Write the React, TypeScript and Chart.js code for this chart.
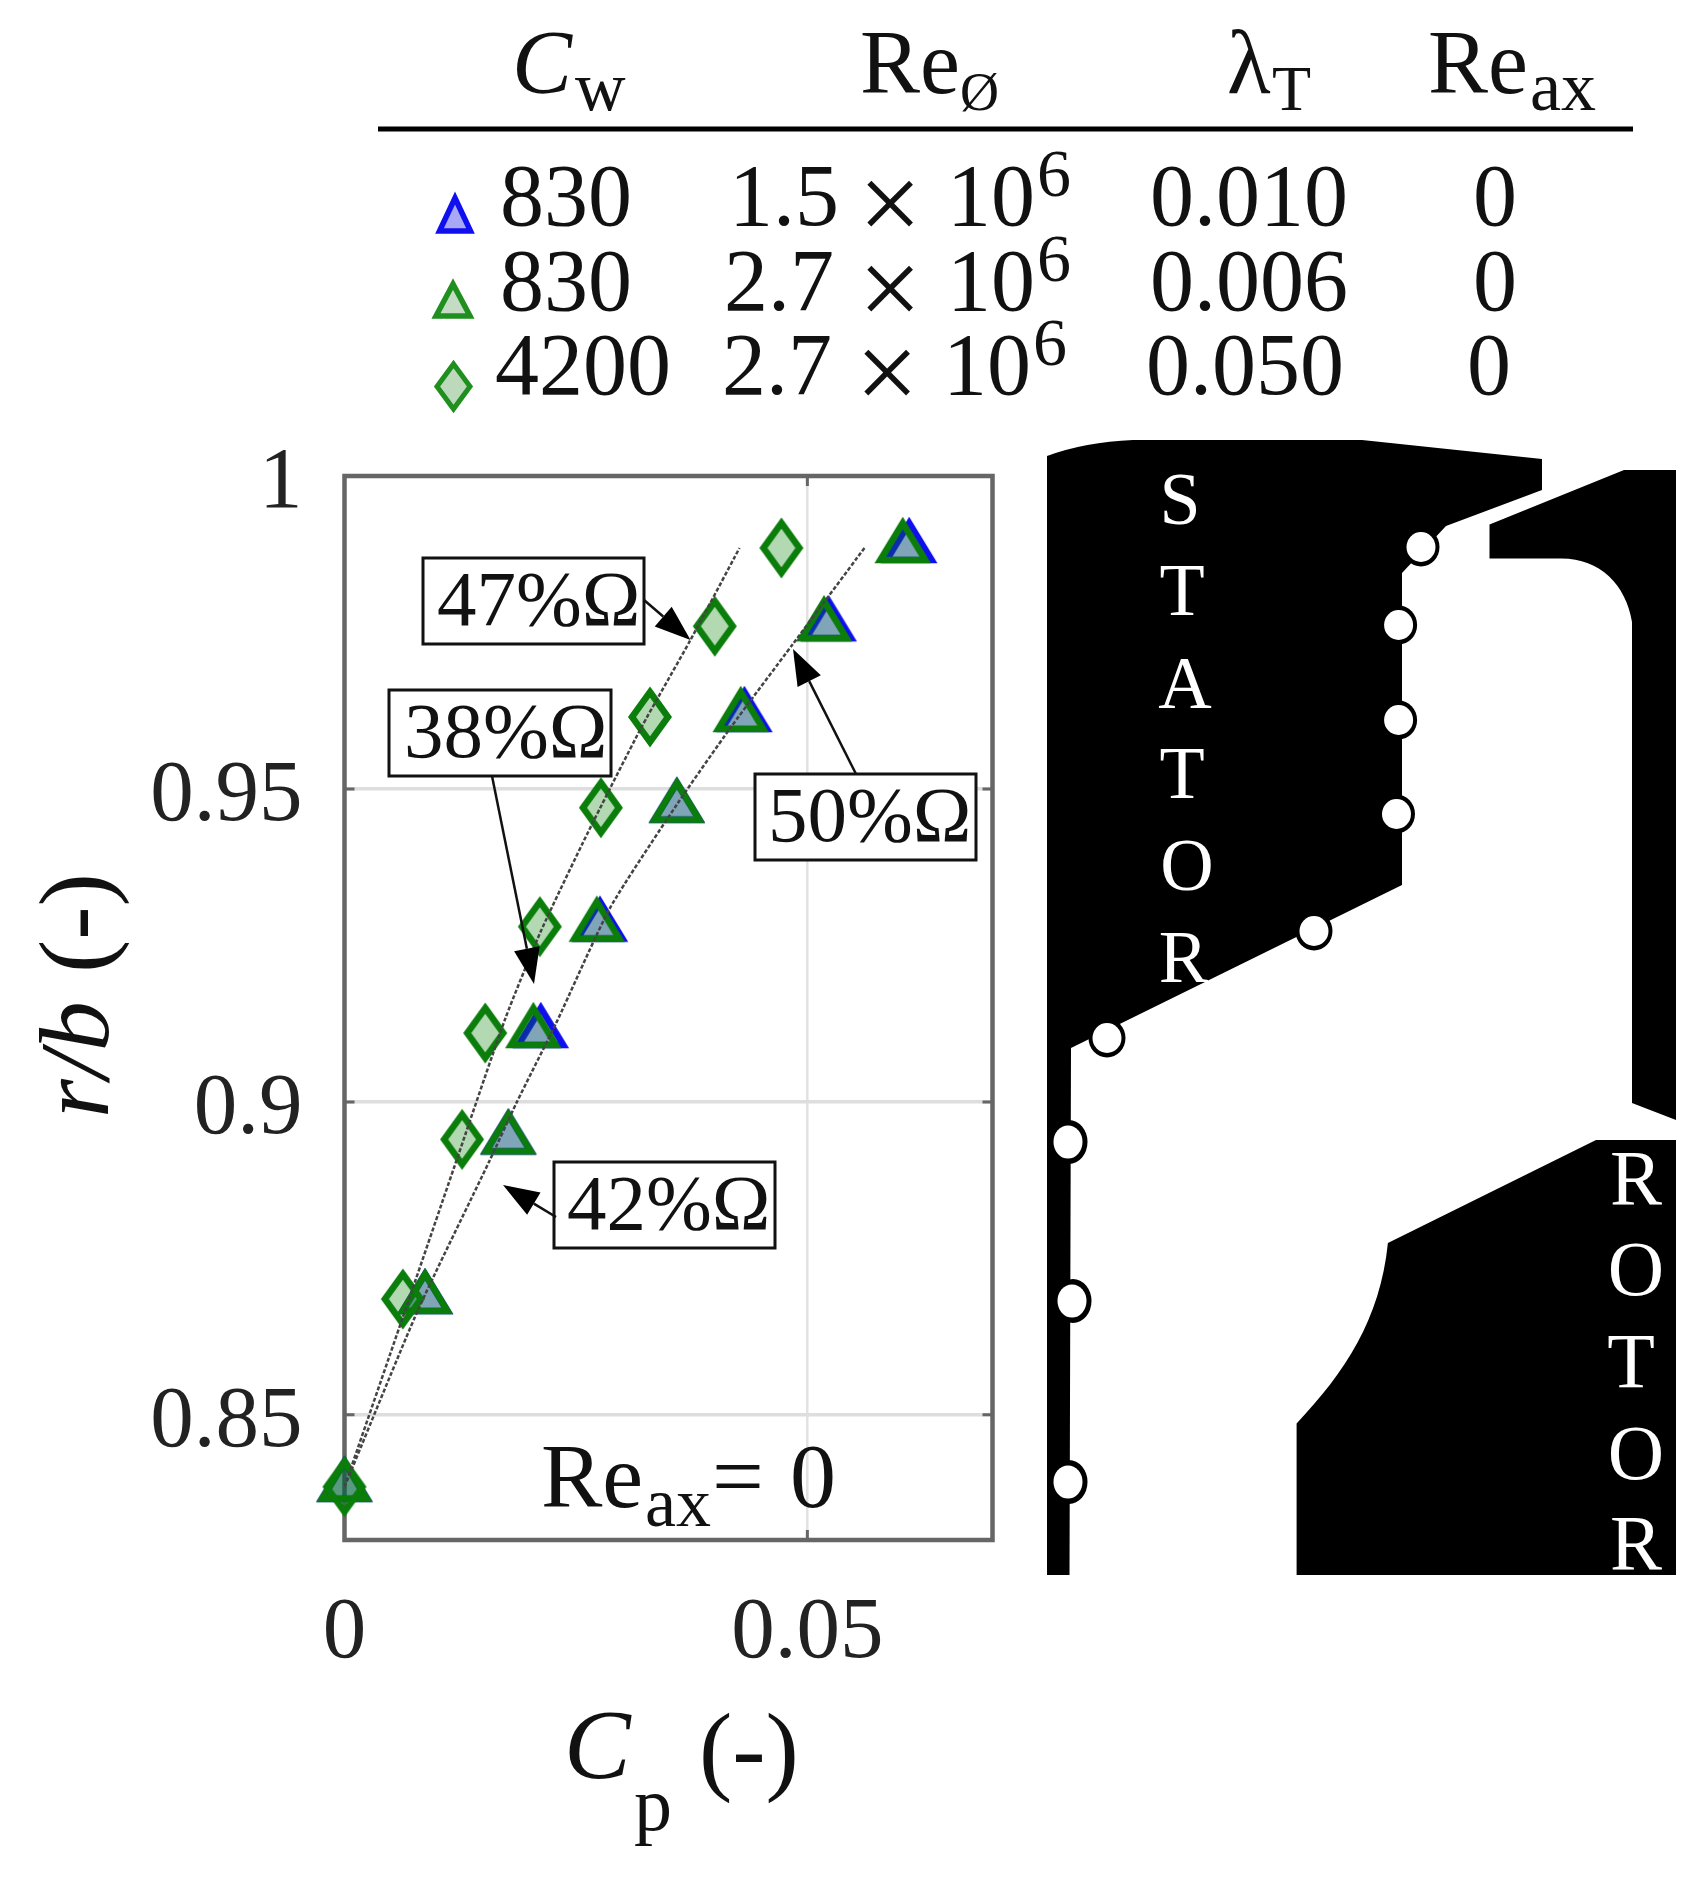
import React, { useEffect, useRef } from "react";
import { Chart, registerables } from "chart.js";

Chart.register(...registerables);

const SERIF = '"Liberation Serif", "Times New Roman", serif';

// ---- data ----
const rOverB = [0.9885, 0.976, 0.9615, 0.947, 0.928, 0.911, 0.894, 0.8685, 0.8385];
const cpDiamond4200 = [0.0472, 0.04, 0.033, 0.0277, 0.0211, 0.0152, 0.0127, 0.0063, 0];
const cpTriangle830High = [0.0603, 0.0518, 0.0428, 0.0359, 0.02725, 0.0204, 0.0177, 0.0087, 0];
const cpTriangle830Low = [0.061, 0.0523, 0.0432, 0.0359, 0.0276, 0.0212, 0.0177, 0.0087, 0];

const fitLeftCp = [0, 0.00628, 0.01181, 0.01737, 0.02122, 0.02628, 0.03206, 0.03737, 0.04267];
const fitLeftR = [0.8385, 0.8655, 0.8894, 0.9133, 0.9273, 0.943, 0.9598, 0.9738, 0.9885];
const fitRightCp = [0, 0.00796, 0.01567, 0.01856, 0.0229, 0.02869, 0.0359, 0.04171, 0.04846, 0.05617];
const fitRightR = [0.8385, 0.8668, 0.8906, 0.8998, 0.9127, 0.931, 0.9475, 0.9598, 0.9732, 0.9885];

const xTickValues = [0, 0.05];
const yTickValues = [0.85, 0.9, 0.95, 1];

const tableCw = ["830", "830", "4200"];
const tableRe = ["1.5", "2.7", "2.7"];
const tableLambda = ["0.010", "0.006", "0.050"];
const tableReax = ["0", "0", "0"];
const annotationLabels = ["47%Ω", "38%Ω", "50%Ω", "42%Ω"];
const statorLetters = ["S", "T", "A", "T", "O", "R"];
const rotorLetters = ["R", "O", "T", "O", "R"];

const pts = (xs: number[], ys: number[]) => xs.map((x, i) => ({ x, y: ys[i] }));

function triangleMarker(stroke: string, fill: string) {
  const c = document.createElement("canvas");
  c.width = 76;
  c.height = 76;
  const g = c.getContext("2d")!;
  const cx = 38, cy = 38;
  g.beginPath();
  g.moveTo(cx, cy - 25);
  g.lineTo(cx + 22.5, cy + 12);
  g.lineTo(cx - 22.5, cy + 12);
  g.closePath();
  g.fillStyle = fill;
  g.fill();
  g.lineWidth = 6.5;
  g.lineJoin = "miter";
  g.strokeStyle = stroke;
  g.stroke();
  return c;
}

function diamondMarker(stroke: string, fill: string) {
  const c = document.createElement("canvas");
  c.width = 60;
  c.height = 76;
  const g = c.getContext("2d")!;
  const cx = 30, cy = 38;
  g.beginPath();
  g.moveTo(cx, cy - 25);
  g.lineTo(cx + 18, cy);
  g.lineTo(cx, cy + 25);
  g.lineTo(cx - 18, cy);
  g.closePath();
  g.fillStyle = fill;
  g.fill();
  g.lineWidth = 6.5;
  g.lineJoin = "miter";
  g.strokeStyle = stroke;
  g.stroke();
  return c;
}

function text(ctx: CanvasRenderingContext2D, s: string, x: number, y: number, size: number, opts: { italic?: boolean; color?: string; align?: CanvasTextAlign } = {}) {
  ctx.font = `${opts.italic ? "italic " : ""}${size}px ${SERIF}`;
  ctx.fillStyle = opts.color || "#111";
  ctx.textAlign = opts.align || "left";
  ctx.textBaseline = "alphabetic";
  ctx.fillText(s, x, y);
}

function arrow(ctx: CanvasRenderingContext2D, x0: number, y0: number, x1: number, y1: number) {
  const a = Math.atan2(y1 - y0, x1 - x0);
  const len = 36, half = 13;
  const bx = x1 - Math.cos(a) * len, by = y1 - Math.sin(a) * len;
  ctx.strokeStyle = "#111";
  ctx.lineWidth = 2.5;
  ctx.beginPath();
  ctx.moveTo(x0, y0);
  ctx.lineTo(bx, by);
  ctx.stroke();
  ctx.fillStyle = "#000";
  ctx.beginPath();
  ctx.moveTo(x1, y1);
  ctx.lineTo(bx - Math.sin(a) * half, by + Math.cos(a) * half);
  ctx.lineTo(bx + Math.sin(a) * half, by - Math.cos(a) * half);
  ctx.closePath();
  ctx.fill();
}

function drawTable(ctx: CanvasRenderingContext2D) {
  const headSize = 90, subSize = 70, cell = 88;
  text(ctx, "C", 512, 93, headSize, { italic: true });
  text(ctx, "w", 575, 110, subSize);
  text(ctx, "Re", 860, 93, headSize);
  text(ctx, "Ø", 960, 110, 54);
  text(ctx, "λ", 1227, 93, headSize);
  text(ctx, "T", 1272, 110, 64);
  text(ctx, "Re", 1428, 93, headSize);
  text(ctx, "ax", 1530, 110, subSize);

  ctx.strokeStyle = "#000";
  ctx.lineWidth = 5;
  ctx.beginPath();
  ctx.moveTo(378, 129);
  ctx.lineTo(1633, 129);
  ctx.stroke();

  const base = [225, 310, 394];
  const cwX = [500, 500, 495];
  const reX = [729, 724, 722];
  const timesX = [890, 890, 887];
  const tenX = [947, 947, 943];
  const sixX = [1037, 1037, 1033];
  const lamX = [1150, 1150, 1146];
  const zeroX = [1473, 1473, 1467];
  base.forEach((y, i) => {
    text(ctx, tableCw[i], cwX[i], y, cell);
    text(ctx, tableRe[i], reX[i], y, cell);
    text(ctx, "×", timesX[i], y + 16, 112, { align: "center" });
    text(ctx, "10", tenX[i], y, cell);
    text(ctx, "6", sixX[i], y - 29, 68);
    text(ctx, tableLambda[i], lamX[i], y, cell);
    text(ctx, tableReax[i], zeroX[i], y, cell);
  });

  const tri = (cx: number, apex: number, base2: number, halfW: number, stroke: string, fill: string) => {
    ctx.beginPath();
    ctx.moveTo(cx, apex);
    ctx.lineTo(cx + halfW, base2);
    ctx.lineTo(cx - halfW, base2);
    ctx.closePath();
    ctx.fillStyle = fill;
    ctx.fill();
    ctx.strokeStyle = stroke;
    ctx.lineWidth = 5.5;
    ctx.stroke();
  };
  tri(455, 198, 231, 15.5, "#0f0ff0", "#a8a8f4");
  tri(453, 284, 316, 17, "#1f8f1f", "#c4dcc4");
  ctx.beginPath();
  ctx.moveTo(453.5, 364);
  ctx.lineTo(470, 386.5);
  ctx.lineTo(453.5, 409);
  ctx.lineTo(437, 386.5);
  ctx.closePath();
  ctx.fillStyle = "#bcd9bc";
  ctx.fill();
  ctx.strokeStyle = "#1f8f1f";
  ctx.lineWidth = 5;
  ctx.stroke();
}

function drawSchematic(ctx: CanvasRenderingContext2D) {
  ctx.fillStyle = "#000";
  // stator
  ctx.beginPath();
  ctx.moveTo(1047, 456);
  ctx.quadraticCurveTo(1085, 442, 1133, 440);
  ctx.lineTo(1362, 440);
  ctx.lineTo(1542, 459);
  ctx.lineTo(1542, 490);
  ctx.lineTo(1446, 526);
  ctx.lineTo(1402, 573);
  ctx.lineTo(1402, 885);
  ctx.lineTo(1071, 1048);
  ctx.lineTo(1069.5, 1575);
  ctx.lineTo(1047, 1575);
  ctx.closePath();
  ctx.fill();
  // shroud
  ctx.beginPath();
  ctx.moveTo(1489.5, 524.6);
  ctx.lineTo(1624, 470);
  ctx.lineTo(1676, 470);
  ctx.lineTo(1676, 1120);
  ctx.lineTo(1632, 1103);
  ctx.lineTo(1632, 622);
  ctx.bezierCurveTo(1626, 585, 1600, 558.6, 1561.5, 558.6);
  ctx.lineTo(1489.5, 558.6);
  ctx.closePath();
  ctx.fill();
  // rotor
  ctx.beginPath();
  ctx.moveTo(1596, 1140);
  ctx.lineTo(1676, 1140);
  ctx.lineTo(1676, 1575);
  ctx.lineTo(1296.6, 1575);
  ctx.lineTo(1296.6, 1423.5);
  ctx.bezierCurveTo(1345, 1372, 1380, 1320, 1387.9, 1243);
  ctx.closePath();
  ctx.fill();

  // pressure tappings
  const tappings = [
    [1421, 547], [1398.6, 625], [1398.6, 720], [1396.5, 814], [1314, 931], [1107, 1038],
    [1068, 1142], [1072, 1301], [1068, 1482],
  ];
  tappings.forEach(([x, y], i) => {
    const onBar = i > 5;
    ctx.fillStyle = "#000";
    ctx.beginPath();
    ctx.ellipse(x + (onBar ? 1 : 0), y, 18.5, onBar ? 22 : 19.5, 0, 0, Math.PI * 2);
    ctx.fill();
    ctx.fillStyle = "#fff";
    ctx.beginPath();
    ctx.ellipse(x, y, 14.5, onBar ? 16.5 : 15, 0, 0, Math.PI * 2);
    ctx.fill();
  });

  const sX = [1180, 1182, 1185, 1182, 1187, 1183.5];
  const sY = [524, 615, 708, 798, 890, 982];
  statorLetters.forEach((l, i) => text(ctx, l, sX[i], sY[i], 74, { color: "#fff", align: "center" }));
  const rX = [1636, 1636, 1631, 1636, 1636];
  const rY = [1204, 1295, 1387, 1479, 1569];
  rotorLetters.forEach((l, i) => text(ctx, l, rX[i], rY[i], 78, { color: "#fff", align: "center" }));
}

const plotFrame = {
  id: "plotFrame",
  beforeDraw(chart: any) {
    // the serif digits sit a little below the tick position in the reference
    const items = chart.scales.y.getLabelItems();
    if (!items.__shifted) {
      items.forEach((it: any) => { it.options.translation[1] += 8; });
      items.__shifted = true;
    }
  },
  beforeDatasetsDraw(chart: any) {
    const { ctx, chartArea: a, scales } = chart;
    ctx.save();
    ctx.strokeStyle = "#666";
    ctx.lineWidth = 4.5;
    ctx.strokeRect(a.left, a.top, a.right - a.left, a.bottom - a.top);
    ctx.lineWidth = 3;
    ctx.beginPath();
    xTickValues.forEach((v) => {
      const x = scales.x.getPixelForValue(v);
      ctx.moveTo(x, a.top); ctx.lineTo(x, a.top + 10);
      ctx.moveTo(x, a.bottom); ctx.lineTo(x, a.bottom - 10);
    });
    yTickValues.forEach((v) => {
      const y = scales.y.getPixelForValue(v);
      ctx.moveTo(a.left, y); ctx.lineTo(a.left + 10, y);
      ctx.moveTo(a.right, y); ctx.lineTo(a.right - 10, y);
    });
    ctx.stroke();
    ctx.restore();
  },
  afterDraw(chart: any) {
    const { ctx } = chart;
    ctx.save();

    // annotation boxes
    const boxes = [
      [423, 558, 221, 86, 437, 625],
      [389, 690, 222, 86, 404, 757],
      [755, 774, 221, 86, 768, 841],
      [554, 1162, 221, 86, 567, 1229],
    ];
    boxes.forEach(([x, y, w, h, tx, ty], i) => {
      ctx.fillStyle = "#fff";
      ctx.fillRect(x, y, w, h);
      ctx.strokeStyle = "#111";
      ctx.lineWidth = 3;
      ctx.strokeRect(x, y, w, h);
      text(ctx, annotationLabels[i], tx, ty, 79);
    });
    arrow(ctx, 644, 600, 690.5, 640);
    arrow(ctx, 492, 776, 534, 984);
    arrow(ctx, 856, 774, 793, 649);
    arrow(ctx, 556, 1217, 503, 1185);

    // inside label
    text(ctx, "Re", 541, 1507, 92);
    text(ctx, "ax", 645, 1526, 70);
    text(ctx, "=", 712, 1507, 92);
    text(ctx, "0", 790, 1507, 92);

    // axis titles
    text(ctx, "C", 564, 1778, 100, { italic: true });
    text(ctx, "p", 634, 1830, 76);
    text(ctx, "(-)", 699, 1782, 100);

    ctx.save();
    ctx.translate(108, 1118);
    ctx.rotate(-Math.PI / 2);
    text(ctx, "r/b", 0, 0, 100, { italic: true });
    text(ctx, "(-)", 145, 0, 100);
    ctx.restore();

    drawTable(ctx);
    drawSchematic(ctx);
    ctx.restore();
  },
};

export default function App() {
  const ref = useRef<HTMLCanvasElement>(null);
  useEffect(() => {
    const tickFont = { family: SERIF, size: 87 };
    const chart = new Chart(ref.current!, {
      type: "scatter",
      data: {
        datasets: [
          { label: "fit 38–47%Ω", data: pts(fitLeftCp, fitLeftR), showLine: true, tension: 0.2, borderColor: "#444", borderWidth: 2.5, borderDash: [4, 2], pointRadius: 0, order: 0 },
          { label: "fit 42–50%Ω", data: pts(fitRightCp, fitRightR), showLine: true, tension: 0.2, borderColor: "#444", borderWidth: 2.5, borderDash: [4, 2], pointRadius: 0, order: 1 },
          { label: "Cw 4200, 2.7e6", data: pts(cpDiamond4200, rOverB), pointStyle: diamondMarker("#0a7d0a", "rgba(0,128,0,0.3)"), pointRadius: 20, clip: false, order: 2 },
          { label: "Cw 830, 2.7e6", data: pts(cpTriangle830High, rOverB), pointStyle: triangleMarker("#0a7d0a", "rgba(0,128,0,0.28)"), pointRadius: 20, clip: false, order: 3 },
          { label: "Cw 830, 1.5e6", data: pts(cpTriangle830Low, rOverB), pointStyle: triangleMarker("#0f0fee", "rgba(0,0,255,0.3)"), pointRadius: 20, clip: false, order: 4 },
        ] as any,
      },
      options: {
        animation: false,
        responsive: false,
        events: [],
        layout: { padding: { left: 0, top: 476, right: 1702 - 992.5, bottom: 0 } },
        plugins: { legend: { display: false }, tooltip: { enabled: false }, title: { display: false } },
        scales: {
          x: {
            type: "linear",
            min: 0,
            max: 0.07,
            afterBuildTicks: (s: any) => { s.ticks = xTickValues.map((value) => ({ value })); },
            afterFit: (s: any) => { s.height = 1888 - 1540; },
            grid: { color: "#e2e2e2", lineWidth: 2.5, drawTicks: false, tickLength: 0 },
            border: { display: false },
            ticks: { font: tickFont, color: "#222", padding: 42, maxRotation: 0, autoSkip: false, callback: (v: any) => String(v) },
          },
          y: {
            type: "linear",
            min: 0.83,
            max: 1,
            afterBuildTicks: (s: any) => { s.ticks = yTickValues.map((value) => ({ value })); },
            afterFit: (s: any) => { s.width = 344.5; },
            grid: { color: "#dedede", lineWidth: 3.5, drawTicks: false, tickLength: 0 },
            border: { display: false },
            ticks: { font: tickFont, color: "#222", padding: 42, autoSkip: false, callback: (v: any) => String(v) },
          },
        },
      },
      plugins: [plotFrame],
    } as any);
    return () => chart.destroy();
  }, []);
  return (
    <div style={{ position: "absolute", left: 0, top: 0, width: 1702, height: 1888, background: "#fff" }}>
      <canvas ref={ref} width={1702} height={1888} style={{ display: "block", width: 1702, height: 1888 }} />
    </div>
  );
}
